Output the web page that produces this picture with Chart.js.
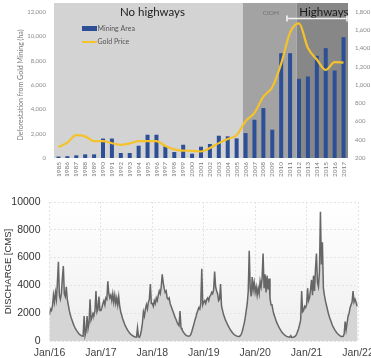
<!DOCTYPE html>
<html>
<head>
<meta charset="utf-8">
<script src="https://cdn.jsdelivr.net/npm/chart.js@4.4.1/dist/chart.umd.min.js"></script>
<style>
  html, body { margin: 0; padding: 0; background: #fff; width: 371px; height: 358px; overflow: hidden; }
  canvas { position: absolute; left: 0; display: block; }
  #mining { top: 0; }
  #discharge { top: 182px; }
</style>
</head>
<body>
<canvas id="mining" width="371" height="182"></canvas>
<canvas id="discharge" width="371" height="176"></canvas>
<script>
// ---- Deforestation from gold mining vs. gold price ----
const years = [1985, 1986, 1987, 1988, 1989, 1990, 1991, 1992, 1993, 1994, 1995,
  1996, 1997, 1998, 1999, 2000, 2001, 2002, 2003, 2004, 2005, 2006, 2007, 2008,
  2009, 2010, 2011, 2012, 2013, 2014, 2015, 2016, 2017];
const miningArea = [120, 150, 220, 300, 300, 1600, 1600, 410, 410, 1010, 1915,
  1915, 960, 490, 1090, 355, 930, 1150, 1830, 1780, 1615, 2050, 3145, 4100,
  2325, 8615, 8615, 6510, 6700, 8400, 9025, 7190, 9930];
const goldPrice = [320, 368, 450, 437, 384, 385, 362, 344, 360, 384, 384,
  385, 331, 294, 280, 279, 271, 310, 363, 409, 450, 603, 695, 872,
  975, 1235, 1575, 1675, 1405, 1280, 1165, 1250, 1245];
const miningTicks = [0, 2000, 4000, 6000, 8000, 10000, 12000];
const priceTicks = [200, 400, 600, 800, 1000, 1200, 1400, 1600, 1800];

// periods shaded behind the bars (in fractional years)
const periodNames = ['No highways', 'CIOH', 'Highways'];
const periodStart = [1984.5, 2005.7, 2011.75];
const periodEnd = [2005.7, 2011.75, 2017.5];
const highwaySpan = [2010.65, 2017.5];

// ---- River discharge, weekly values ----
const q2016 = [1900, 2300, 2200, 2500, 3300, 2800, 3500, 3000, 4200, 5700,
  3300, 3000, 3400, 4500, 5400, 3400, 3200, 3900, 3000, 2600,
  2200, 1900, 1650, 1450, 1250, 1080, 930, 800, 690, 590,
  510, 440, 390, 360, 350, 1800, 400, 700, 1800, 900,
  1300, 3000, 1500, 1700, 2000, 1900, 2200, 3600, 2100, 2300,
  3200, 2200];
const q2017 = [2200, 2400, 2700, 2900, 2600, 3100, 3000, 4300, 3400, 3100,
  3300, 2900, 3400, 2800, 3300, 2700, 3100, 2600, 3200, 2500,
  2100, 1850, 1600, 1400, 1200, 1050, 900, 780, 670, 580,
  500, 440, 380, 340, 310, 290, 280, 950, 300, 270,
  450, 800, 1300, 2100, 1800, 2300, 2600, 2300, 2800, 3000,
  4100, 2700];
const q2018 = [2700, 2500, 2900, 2700, 3100, 2900, 3300, 3600, 3400, 3900,
  4800, 4200, 3800, 3500, 3600, 3100, 3000, 3100, 2700, 2500,
  2300, 2100, 1900, 1700, 1550, 1350, 1200, 1100, 2150, 950,
  820, 700, 580, 480, 420, 380, 350, 340, 380, 480,
  700, 950, 1200, 1500, 1700, 2000, 2200, 2400, 2300, 2700,
  5200, 2600];
const q2019 = [2800, 2900, 2700, 3000, 3100, 2900, 3200, 3300, 3500, 3400,
  3700, 5000, 3900, 3600, 3400, 2900, 3000, 4100, 2500, 2200,
  1900, 1700, 1500, 1350, 1200, 1050, 920, 800, 700, 600,
  520, 460, 410, 370, 340, 320, 330, 380, 500, 700,
  1000, 1300, 1700, 2200, 2700, 3600, 6500, 3800, 3200, 4600,
  3700, 4200];
const q2020 = [3500, 3900, 3300, 3800, 3400, 4300, 3900, 4500, 6300, 3800,
  4800, 3500, 4700, 3700, 4500, 3100, 2600, 2600, 2200, 1900,
  1700, 1500, 1300, 1150, 1000, 870, 750, 650, 560, 480,
  420, 370, 330, 300, 280, 270, 380, 260, 270, 290,
  320, 380, 500, 700, 900, 1200, 1500, 3600, 2100, 2200,
  2500, 2400];
const q2021 = [2600, 3800, 2900, 3100, 3700, 4400, 3300, 4700, 3600, 5200,
  6300, 4200, 3900, 5000, 9300, 5500, 7100, 3800, 3300, 2900,
  2600, 2300, 2000, 1750, 1550, 1350, 1150, 1000, 870, 750,
  650, 560, 480, 420, 370, 330, 320, 340, 500, 1400,
  800, 1300, 1800, 2000, 2400, 2600, 2800, 3600, 2800, 3000,
  2800, 2500];
const firstYear = 2016;
const weeksPerYear = 52;
const dischargeTicks = [0, 2000, 4000, 6000, 8000, 10000];
const yearTicks = [2016, 2017, 2018, 2019, 2020, 2021, 2022];

const commas = v => Number(v).toLocaleString('en-US');

// shaded periods, labels, bracket and legend for the mining chart
const periodsPlugin = {
  id: 'periods',
  beforeDatasetsDraw(chart) {
    const { ctx, chartArea: a, scales: { x } } = chart;
    const shades = ['#d3d3d3', '#a3a3a3', '#878787'];
    const top = a.top - 9;
    ctx.save();
    periodNames.forEach((name, i) => {
      const l = x.getPixelForValue(periodStart[i] - years[0]);
      const r = x.getPixelForValue(periodEnd[i] - years[0]);
      ctx.fillStyle = shades[i];
      ctx.fillRect(l, top, r - l, a.bottom - top);
    });
    ctx.restore();
  },
  afterDatasetsDraw(chart) {
    const { ctx, chartArea: a, scales: { x } } = chart;
    const px = yr => x.getPixelForValue(yr - years[0]);
    ctx.save();
    ctx.textBaseline = 'middle';
    // period names
    ctx.fillStyle = '#1c1c1c';
    ctx.font = '11.5px Lato';
    ctx.textAlign = 'right';
    ctx.fillText(periodNames[0], px(periodEnd[0]) - 58, a.top + 0.5);
    ctx.fillText(periodNames[2], px(periodEnd[2]) + 0.5, a.top + 0.5);
    ctx.fillStyle = '#707070';
    ctx.font = '6.5px Lato';
    ctx.textAlign = 'center';
    ctx.fillText(periodNames[1], (px(periodStart[1]) + px(periodEnd[1])) / 2 + 1, a.top + 0.5);
    // bracket spanning the highway years
    const bl = px(highwaySpan[0]), br = px(highwaySpan[1]) - 1, by = a.top + 6.5;
    ctx.strokeStyle = '#f2f2f2';
    ctx.lineWidth = 1.6;
    ctx.beginPath();
    ctx.moveTo(bl, by); ctx.lineTo(br, by);
    ctx.moveTo(bl, by - 3); ctx.lineTo(bl, by + 3);
    ctx.moveTo(br, by - 3); ctx.lineTo(br, by + 3);
    ctx.stroke();
    // legend
    const ds = chart.data.datasets;
    const lx = 82, ly1 = 28.5, ly2 = 42;
    const bar = ds.find(d => d.type === 'bar');
    const line = ds.find(d => d.type === 'line');
    ctx.fillStyle = bar.backgroundColor;
    ctx.fillRect(lx, ly1 - 2.5, 15, 5);
    ctx.strokeStyle = line.borderColor;
    ctx.lineWidth = 2;
    ctx.beginPath(); ctx.moveTo(lx, ly2); ctx.lineTo(lx + 15, ly2); ctx.stroke();
    ctx.fillStyle = '#555';
    ctx.font = '7px Lato';
    ctx.textAlign = 'left';
    ctx.fillText(bar.label, lx + 15.5, ly1);
    ctx.fillText(line.label, lx + 15.5, ly2);
    ctx.restore();
  }
};

const tickFont = { family: 'Lato', size: 6 };
new Chart(document.getElementById('mining'), {
  data: {
    labels: years.map(String),
    datasets: [
      { type: 'line', label: 'Gold Price', data: goldPrice, yAxisID: 'y1',
        borderColor: '#f4c22b', borderWidth: 2.2, pointRadius: 0,
        cubicInterpolationMode: 'monotone', order: 0 },
      { type: 'bar', label: 'Mining Area', data: miningArea, yAxisID: 'y',
        backgroundColor: '#2d4f96', barPercentage: 0.45, categoryPercentage: 1, order: 1 }
    ]
  },
  options: {
    responsive: false, animation: false, devicePixelRatio: 1,
    layout: { padding: { top: 12, left: 0, right: 0, bottom: 0 } },
    plugins: { legend: { display: false }, tooltip: { enabled: false } },
    scales: {
      x: {
        grid: { display: false, drawTicks: false }, border: { display: false },
        ticks: { autoSkip: false, minRotation: 90, maxRotation: 90, padding: 4,
          font: { family: 'Lato', size: 6.5 }, color: '#7a7a7a' },
        afterFit(s) { s.height = 24; s.paddingLeft = 0; s.paddingRight = 0; }
      },
      y: {
        position: 'left', min: 0, max: 12000,
        afterBuildTicks(s) { s.ticks = miningTicks.map(v => ({ value: v })); },
        ticks: { callback: commas, font: tickFont, color: '#8a8a8a', padding: 8 },
        grid: { display: false, drawTicks: false }, border: { display: false },
        title: { display: true, text: 'Deforestation from Gold Mining (ha)',
          font: { family: 'Lato', size: 7 }, color: '#7a7a7a', padding: { top: 16.5, bottom: 0 } },
        afterFit(s) { s.width = 54; }
      },
      y1: {
        position: 'right', min: 200, max: 1800,
        afterBuildTicks(s) { s.ticks = priceTicks.map(v => ({ value: v })); },
        ticks: { callback: commas, font: tickFont, color: '#8a8a8a', padding: 7 },
        grid: { display: false, drawTicks: false }, border: { display: false },
        afterFit(s) { s.width = 23; }
      }
    }
  },
  plugins: [periodsPlugin]
});

// ---- discharge chart ----
const weekly = [].concat(q2016, q2017, q2018, q2019, q2020, q2021);
const dischargePoints = weekly.map((q, i) => ({ x: firstYear + i / weeksPerYear, y: q }));

const plotBackground = {
  id: 'plotBackground',
  beforeDraw(chart) {
    const { ctx, chartArea: a } = chart;
    const g = ctx.createLinearGradient(0, a.top, 0, a.bottom);
    g.addColorStop(0, '#ffffff');
    g.addColorStop(1, '#efefef');
    ctx.save();
    ctx.fillStyle = g;
    ctx.fillRect(a.left, a.top, a.right - a.left, a.bottom - a.top);
    ctx.restore();
  }
};

const axisFont = { family: "'Liberation Sans', Arial, sans-serif", size: 10.5 };
new Chart(document.getElementById('discharge'), {
  type: 'line',
  data: {
    datasets: [{
      data: dischargePoints, borderColor: '#666666', borderWidth: 1.5,
      pointRadius: 0, fill: 'origin', backgroundColor: '#d5d5d5', tension: 0
    }]
  },
  options: {
    responsive: false, animation: false, devicePixelRatio: 1,
    layout: { padding: { top: 20, left: 0, right: 13, bottom: 0 } },
    plugins: { legend: { display: false }, tooltip: { enabled: false } },
    scales: {
      x: {
        type: 'linear', min: 2016, max: 2022,
        afterBuildTicks(s) { s.ticks = yearTicks.map(v => ({ value: v })); },
        ticks: { callback: v => 'Jan/' + String(v).slice(2), font: axisFont,
          color: '#444', padding: 6, maxRotation: 0 },
        grid: { color: '#e3e3e3', drawTicks: false },
        border: { display: false, dash: [2, 2] },
        afterFit(s) { s.height = 17; s.paddingLeft = 0; s.paddingRight = 0; }
      },
      y: {
        min: 0, max: 10000,
        afterBuildTicks(s) { s.ticks = dischargeTicks.map(v => ({ value: v })); },
        ticks: { callback: v => String(v), font: axisFont, color: '#333', padding: 9 },
        grid: { color: '#e3e3e3', drawTicks: false },
        border: { display: false, dash: [2, 2] },
        title: { display: true, text: 'DISCHARGE [CMS]',
          font: { family: "'Liberation Sans', Arial, sans-serif", size: 9.5 },
          color: '#333', padding: { top: 3, bottom: 0 } },
        afterFit(s) { s.width = 49.5; }
      }
    }
  },
  plugins: [plotBackground]
});
</script>
</body>
</html>
